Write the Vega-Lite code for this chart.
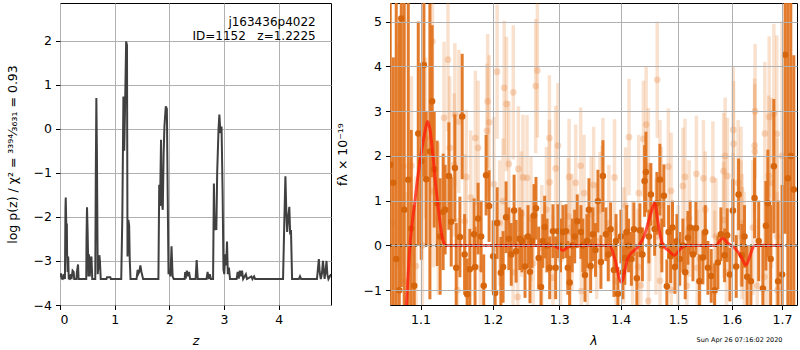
{
"$schema": "https://vega.github.io/schema/vega-lite/v6.json",
"padding": {"left": 5, "top": 2, "right": 1, "bottom": 0},
"spacing": 59,
"bounds": "flush",
"config": {
  "font": "DejaVu Sans",
  "view": {"stroke": "black", "strokeWidth": 1},
  "axis": {"grid": true, "gridColor": "#b0b0b0", "gridWidth": 1, "gridOpacity": 1, "domain": false, "tickColor": "black", "tickSize": 4.5, "tickWidth": 1, "labelFontSize": 12.5, "labelColor": "black", "labelPadding": 4, "titleFontSize": 12.5, "titleFontWeight": "normal", "titleColor": "black", "labelFont": "DejaVu Sans", "titleFont": "DejaVu Sans"}
},
"datasets": {
"pz": [{"z":0,"v":-3.3},{"z":0.01,"v":-3.36},{"z":0.02,"v":-3.28},{"z":0.03,"v":-3.4},{"z":0.05,"v":-3.41},{"z":0.07,"v":-3.3},{"z":0.09,"v":-3.41},{"z":0.1,"v":-1.8},{"z":0.105,"v":-1.56},{"z":0.115,"v":-2.2},{"z":0.125,"v":-2.15},{"z":0.13,"v":-2.85},{"z":0.14,"v":-3.25},{"z":0.15,"v":-2.9},{"z":0.16,"v":-3.4},{"z":0.18,"v":-3.41},{"z":0.2,"v":-3.3},{"z":0.21,"v":-3.41},{"z":0.23,"v":-3.22},{"z":0.25,"v":-3.25},{"z":0.26,"v":-3.41},{"z":0.3,"v":-3.41},{"z":0.31,"v":-3.25},{"z":0.33,"v":-3.08},{"z":0.34,"v":-3.41},{"z":0.48,"v":-3.41},{"z":0.485,"v":-2.5},{"z":0.494,"v":-1.78},{"z":0.505,"v":-2.3},{"z":0.52,"v":-3.35},{"z":0.53,"v":-2.85},{"z":0.545,"v":-3.35},{"z":0.56,"v":-2.95},{"z":0.575,"v":-2.9},{"z":0.59,"v":-3.41},{"z":0.645,"v":-3.41},{"z":0.655,"v":-1.0},{"z":0.665,"v":0.7},{"z":0.675,"v":-0.5},{"z":0.69,"v":-3.3},{"z":0.705,"v":-3.1},{"z":0.72,"v":-2.87},{"z":0.73,"v":-3.0},{"z":0.745,"v":-3.41},{"z":0.85,"v":-3.41},{"z":0.86,"v":-3.37},{"z":0.92,"v":-3.37},{"z":0.93,"v":-3.41},{"z":1.12,"v":-3.41},{"z":1.14,"v":-2.0},{"z":1.16,"v":0.73},{"z":1.175,"v":-0.5},{"z":1.19,"v":0.5},{"z":1.21,"v":1.98},{"z":1.225,"v":1.9},{"z":1.235,"v":-2.9},{"z":1.25,"v":-2.07},{"z":1.265,"v":-2.2},{"z":1.275,"v":-2.95},{"z":1.29,"v":-3.41},{"z":1.4,"v":-3.41},{"z":1.42,"v":-3.2},{"z":1.43,"v":-3.3},{"z":1.45,"v":-3.25},{"z":1.47,"v":-3.1},{"z":1.49,"v":-3.25},{"z":1.5,"v":-3.3},{"z":1.52,"v":-3.41},{"z":1.8,"v":-3.41},{"z":1.815,"v":-1.27},{"z":1.83,"v":-1.75},{"z":1.848,"v":-0.25},{"z":1.86,"v":-1.65},{"z":1.88,"v":-1.84},{"z":1.895,"v":-0.6},{"z":1.91,"v":0.05},{"z":1.935,"v":0.51},{"z":1.955,"v":0.45},{"z":1.97,"v":-1.5},{"z":1.985,"v":-3.3},{"z":2.0,"v":-3.2},{"z":2.02,"v":-3.35},{"z":2.04,"v":-2.67},{"z":2.06,"v":-3.35},{"z":2.08,"v":-3.41},{"z":2.28,"v":-3.41},{"z":2.29,"v":-3.25},{"z":2.3,"v":-3.4},{"z":2.32,"v":-3.22},{"z":2.34,"v":-3.35},{"z":2.36,"v":-3.25},{"z":2.38,"v":-3.41},{"z":2.48,"v":-3.41},{"z":2.5,"v":-2.98},{"z":2.52,"v":-3.41},{"z":2.68,"v":-3.41},{"z":2.7,"v":-3.25},{"z":2.72,"v":-3.41},{"z":2.74,"v":-3.3},{"z":2.76,"v":-3.41},{"z":2.8,"v":-3.41},{"z":2.815,"v":-1.24},{"z":2.83,"v":-2.3},{"z":2.845,"v":-2.0},{"z":2.86,"v":-2.3},{"z":2.875,"v":-1.0},{"z":2.9,"v":0.0},{"z":2.915,"v":0.32},{"z":2.935,"v":-0.1},{"z":2.955,"v":0.05},{"z":2.975,"v":-1.5},{"z":2.99,"v":-3.2},{"z":3.005,"v":-3.3},{"z":3.02,"v":-2.85},{"z":3.04,"v":-3.1},{"z":3.055,"v":-2.56},{"z":3.07,"v":-3.3},{"z":3.09,"v":-3.15},{"z":3.11,"v":-3.41},{"z":3.23,"v":-3.41},{"z":3.25,"v":-3.25},{"z":3.27,"v":-3.4},{"z":3.29,"v":-3.22},{"z":3.31,"v":-3.35},{"z":3.33,"v":-3.22},{"z":3.35,"v":-3.41},{"z":3.4,"v":-3.3},{"z":3.42,"v":-3.41},{"z":3.5,"v":-3.35},{"z":3.52,"v":-3.41},{"z":3.55,"v":-3.35},{"z":3.57,"v":-3.41},{"z":4.08,"v":-3.41},{"z":4.105,"v":-2.0},{"z":4.123,"v":-1.08},{"z":4.14,"v":-1.9},{"z":4.155,"v":-2.34},{"z":4.175,"v":-2.0},{"z":4.195,"v":-1.77},{"z":4.21,"v":-2.4},{"z":4.225,"v":-2.3},{"z":4.245,"v":-3.41},{"z":4.37,"v":-3.41},{"z":4.39,"v":-3.35},{"z":4.41,"v":-3.41},{"z":4.7,"v":-3.41},{"z":4.72,"v":-3.15},{"z":4.735,"v":-2.96},{"z":4.75,"v":-3.25},{"z":4.77,"v":-3.41},{"z":4.79,"v":-3.3},{"z":4.81,"v":-3.0},{"z":4.825,"v":-3.2},{"z":4.84,"v":-3.41},{"z":4.86,"v":-3.2},{"z":4.875,"v":-3.0},{"z":4.89,"v":-3.3},{"z":4.91,"v":-3.41},{"z":4.935,"v":-3.35},{"z":4.96,"v":-3.3}],
"dark": [{"l":1.0606,"f":1.8,"e":8},{"l":1.0645,"f":1.4,"e":2.8},{"l":1.0683,"f":-0.3,"e":6},{"l":1.0722,"f":-1.0,"e":6},{"l":1.0748,"f":5.07,"e":6},{"l":1.0786,"f":0.8,"e":5},{"l":1.0839,"f":1.47,"e":4},{"l":1.0878,"f":0.38,"e":2.2},{"l":1.0917,"f":-0.9,"e":1.8},{"l":1.097,"f":2.5,"e":2.5},{"l":1.1009,"f":1.88,"e":2.2},{"l":1.1045,"f":4.03,"e":2.5},{"l":1.1076,"f":1.48,"e":1.5},{"l":1.1125,"f":2.1,"e":3.3},{"l":1.1155,"f":3.22,"e":1.7},{"l":1.1183,"f":1.7,"e":1.3},{"l":1.1223,"f":0.94,"e":1.4},{"l":1.1263,"f":0.2,"e":1.3},{"l":1.1304,"f":0.75,"e":1.3},{"l":1.1331,"f":0.8,"e":1.0},{"l":1.1382,"f":1.55,"e":1.2},{"l":1.1414,"f":0.53,"e":1.0},{"l":1.1465,"f":1.73,"e":1.2},{"l":1.1483,"f":-0.5,"e":1.0},{"l":1.1534,"f":0.19,"e":0.9},{"l":1.1566,"f":2.88,"e":1.4},{"l":1.16,"f":-0.2,"e":0.9},{"l":1.1635,"f":-1.09,"e":0.8},{"l":1.1673,"f":-0.53,"e":0.9},{"l":1.1733,"f":0.25,"e":0.8},{"l":1.1747,"f":-0.48,"e":0.9},{"l":1.179,"f":0.6,"e":0.8},{"l":1.1833,"f":0.2,"e":0.8},{"l":1.187,"f":-0.9,"e":0.7},{"l":1.1904,"f":1.57,"e":0.9},{"l":1.1947,"f":0.88,"e":0.8},{"l":1.2005,"f":-0.24,"e":0.8},{"l":1.2034,"f":-1.06,"e":0.8},{"l":1.2063,"f":0.5,"e":0.8},{"l":1.2117,"f":-0.61,"e":0.8},{"l":1.215,"f":-0.48,"e":0.8},{"l":1.2194,"f":0.63,"e":0.8},{"l":1.2234,"f":0.15,"e":0.7},{"l":1.227,"f":-0.2,"e":0.7},{"l":1.2312,"f":0.78,"e":0.8},{"l":1.2342,"f":-0.13,"e":0.7},{"l":1.2396,"f":0.15,"e":0.7},{"l":1.243,"f":0.1,"e":0.7},{"l":1.2475,"f":-0.47,"e":0.7},{"l":1.252,"f":0.2,"e":0.7},{"l":1.255,"f":-0.59,"e":0.7},{"l":1.258,"f":0.1,"e":0.6},{"l":1.2611,"f":0.67,"e":0.7},{"l":1.2641,"f":0.83,"e":0.7},{"l":1.2682,"f":-0.28,"e":0.7},{"l":1.2718,"f":-0.93,"e":0.7},{"l":1.2745,"f":0.1,"e":0.6},{"l":1.2774,"f":0.41,"e":0.7},{"l":1.281,"f":0.0,"e":0.6},{"l":1.2851,"f":-0.5,"e":0.7},{"l":1.2902,"f":0.32,"e":0.6},{"l":1.2944,"f":-0.5,"e":0.7},{"l":1.298,"f":0.32,"e":0.6},{"l":1.302,"f":0.0,"e":0.6},{"l":1.3059,"f":0.3,"e":0.6},{"l":1.3106,"f":0.32,"e":0.6},{"l":1.3135,"f":-0.5,"e":0.6},{"l":1.3164,"f":-0.83,"e":0.6},{"l":1.3205,"f":0.0,"e":0.6},{"l":1.3244,"f":0.2,"e":0.6},{"l":1.3285,"f":0.54,"e":0.6},{"l":1.3344,"f":0.3,"e":0.6},{"l":1.3375,"f":0.0,"e":0.6},{"l":1.3409,"f":-0.66,"e":0.6},{"l":1.344,"f":0.1,"e":0.6},{"l":1.3473,"f":0.8,"e":0.7},{"l":1.3501,"f":-0.46,"e":0.6},{"l":1.3538,"f":0.25,"e":0.6},{"l":1.358,"f":-0.1,"e":0.6},{"l":1.362,"f":0.99,"e":0.7},{"l":1.3669,"f":-0.37,"e":0.6},{"l":1.3702,"f":1.55,"e":0.8},{"l":1.3751,"f":0.25,"e":0.6},{"l":1.379,"f":-0.2,"e":0.6},{"l":1.383,"f":0.36,"e":0.6},{"l":1.3885,"f":-0.55,"e":0.6},{"l":1.392,"f":0.1,"e":0.6},{"l":1.3952,"f":-1.08,"e":0.6},{"l":1.4002,"f":0.2,"e":0.6},{"l":1.4035,"f":-0.6,"e":0.6},{"l":1.4069,"f":-0.28,"e":0.6},{"l":1.41,"f":0.3,"e":0.6},{"l":1.4132,"f":0.0,"e":0.6},{"l":1.418,"f":-0.3,"e":0.6},{"l":1.4223,"f":0.36,"e":0.6},{"l":1.4274,"f":-0.73,"e":0.6},{"l":1.4326,"f":0.34,"e":0.6},{"l":1.437,"f":-0.2,"e":0.6},{"l":1.4407,"f":1.44,"e":0.8},{"l":1.443,"f":1.64,"e":0.9},{"l":1.4482,"f":0.2,"e":0.6},{"l":1.4517,"f":1.14,"e":0.7},{"l":1.4582,"f":0.37,"e":0.6},{"l":1.4622,"f":0.94,"e":0.7},{"l":1.4675,"f":1.47,"e":0.8},{"l":1.471,"f":0.0,"e":0.6},{"l":1.4746,"f":1.11,"e":0.7},{"l":1.4799,"f":-0.91,"e":0.6},{"l":1.483,"f":0.3,"e":0.6},{"l":1.4866,"f":-0.24,"e":0.6},{"l":1.49,"f":0.4,"e":0.6},{"l":1.4943,"f":-0.48,"e":0.6},{"l":1.4979,"f":0.1,"e":0.6},{"l":1.503,"f":-0.3,"e":0.6},{"l":1.5088,"f":0.0,"e":0.6},{"l":1.513,"f":-0.6,"e":0.6},{"l":1.5179,"f":0.17,"e":0.6},{"l":1.522,"f":0.4,"e":0.6},{"l":1.5271,"f":-0.2,"e":0.6},{"l":1.5326,"f":0.39,"e":0.6},{"l":1.539,"f":-0.8,"e":0.6},{"l":1.5456,"f":-0.27,"e":0.6},{"l":1.55,"f":0.3,"e":0.6},{"l":1.5549,"f":-0.5,"e":0.6},{"l":1.5611,"f":-0.68,"e":0.6},{"l":1.5675,"f":-1.0,"e":0.6},{"l":1.5737,"f":-0.38,"e":0.6},{"l":1.5794,"f":0.25,"e":0.6},{"l":1.5865,"f":-0.22,"e":0.6},{"l":1.5914,"f":0.23,"e":0.6},{"l":1.5966,"f":-0.65,"e":0.6},{"l":1.6024,"f":0.78,"e":0.7},{"l":1.6088,"f":-0.47,"e":0.7},{"l":1.6134,"f":1.14,"e":0.8},{"l":1.6198,"f":-0.22,"e":0.7},{"l":1.625,"f":0.2,"e":0.7},{"l":1.6302,"f":-0.7,"e":0.7},{"l":1.6375,"f":-0.8,"e":0.8},{"l":1.6448,"f":1.06,"e":0.9},{"l":1.653,"f":0.1,"e":0.9},{"l":1.6613,"f":-0.96,"e":1.0},{"l":1.6673,"f":0.44,"e":1.0},{"l":1.6713,"f":0.94,"e":1.2},{"l":1.677,"f":-0.3,"e":1.2},{"l":1.6834,"f":1.77,"e":1.5},{"l":1.692,"f":-0.8,"e":1.8},{"l":1.7003,"f":-0.65,"e":2.0},{"l":1.7064,"f":4.26,"e":4},{"l":1.712,"f":1.5,"e":8},{"l":1.7181,"f":2.0,"e":8},{"l":1.7243,"f":1.25,"e":3}],
"light": [{"l":1.063,"f":0.5,"e":2.5},{"l":1.07,"f":2.0,"e":2.5},{"l":1.0774,"f":1.77,"e":2.2},{"l":1.08,"f":-0.8,"e":2.0},{"l":1.0881,"f":1.78,"e":2.0},{"l":1.094,"f":-0.46,"e":2.0},{"l":1.1025,"f":0.0,"e":1.8},{"l":1.1066,"f":2.4,"e":1.8},{"l":1.1159,"f":4.56,"e":1.8},{"l":1.1169,"f":1.21,"e":1.7},{"l":1.1237,"f":0.6,"e":1.7},{"l":1.1316,"f":2.85,"e":1.7},{"l":1.137,"f":4.15,"e":1.6},{"l":1.1394,"f":2.18,"e":1.6},{"l":1.1455,"f":1.8,"e":1.6},{"l":1.1465,"f":2.92,"e":1.6},{"l":1.15,"f":-1.0,"e":1.6},{"l":1.152,"f":2.77,"e":1.6},{"l":1.1602,"f":0.54,"e":1.5},{"l":1.1624,"f":1.53,"e":1.5},{"l":1.1686,"f":1.07,"e":1.5},{"l":1.1751,"f":2.4,"e":1.5},{"l":1.179,"f":2.18,"e":1.5},{"l":1.182,"f":-0.5,"e":1.5},{"l":1.1916,"f":2.56,"e":1.5},{"l":1.1926,"f":3.22,"e":1.5},{"l":1.1948,"f":2.75,"e":1.5},{"l":1.2016,"f":1.37,"e":1.5},{"l":1.2063,"f":3.88,"e":1.5},{"l":1.21,"f":0.5,"e":1.4},{"l":1.215,"f":0.99,"e":1.4},{"l":1.2166,"f":3.52,"e":1.5},{"l":1.22,"f":3.16,"e":1.5},{"l":1.2234,"f":1.82,"e":1.4},{"l":1.2297,"f":-0.6,"e":1.4},{"l":1.23,"f":3.42,"e":1.5},{"l":1.2366,"f":-1.15,"e":1.4},{"l":1.2376,"f":1.71,"e":1.4},{"l":1.2422,"f":0.7,"e":1.4},{"l":1.2445,"f":1.52,"e":1.4},{"l":1.2505,"f":1.51,"e":1.4},{"l":1.2565,"f":0.6,"e":1.4},{"l":1.26,"f":-0.4,"e":1.4},{"l":1.2637,"f":3.56,"e":1.5},{"l":1.2662,"f":3.91,"e":1.5},{"l":1.273,"f":-0.05,"e":1.4},{"l":1.28,"f":0.8,"e":1.4},{"l":1.2847,"f":2.4,"e":1.4},{"l":1.2848,"f":1.41,"e":1.4},{"l":1.2902,"f":-0.72,"e":1.4},{"l":1.2945,"f":1.72,"e":1.4},{"l":1.298,"f":2.23,"e":1.4},{"l":1.302,"f":-0.3,"e":1.3},{"l":1.3145,"f":0.65,"e":1.3},{"l":1.3155,"f":1.53,"e":1.3},{"l":1.3164,"f":-0.84,"e":1.3},{"l":1.32,"f":0.3,"e":1.3},{"l":1.326,"f":1.4,"e":1.3},{"l":1.334,"f":1.78,"e":1.3},{"l":1.335,"f":-1.02,"e":1.3},{"l":1.3395,"f":1.17,"e":1.3},{"l":1.345,"f":-0.5,"e":1.3},{"l":1.351,"f":0.7,"e":1.3},{"l":1.355,"f":1.35,"e":1.3},{"l":1.36,"f":0.1,"e":1.3},{"l":1.3654,"f":0.79,"e":1.3},{"l":1.3688,"f":0.93,"e":1.3},{"l":1.3702,"f":1.55,"e":1.3},{"l":1.38,"f":0.5,"e":1.3},{"l":1.3895,"f":1.52,"e":1.3},{"l":1.392,"f":-0.8,"e":1.3},{"l":1.405,"f":0.0,"e":1.3},{"l":1.408,"f":0.89,"e":1.3},{"l":1.414,"f":2.42,"e":1.3},{"l":1.42,"f":-0.3,"e":1.3},{"l":1.4292,"f":-0.48,"e":1.3},{"l":1.4306,"f":1.17,"e":1.3},{"l":1.4343,"f":-0.89,"e":1.3},{"l":1.4387,"f":2.38,"e":1.3},{"l":1.4434,"f":2.7,"e":1.3},{"l":1.4472,"f":-1.24,"e":1.3},{"l":1.4473,"f":1.77,"e":1.3},{"l":1.45,"f":0.5,"e":1.3},{"l":1.4607,"f":0.2,"e":1.3},{"l":1.4628,"f":3.7,"e":1.3},{"l":1.4677,"f":1.5,"e":1.3},{"l":1.4678,"f":-0.79,"e":1.3},{"l":1.47,"f":0.9,"e":1.3},{"l":1.4825,"f":1.76,"e":1.3},{"l":1.4875,"f":1.22,"e":1.3},{"l":1.4876,"f":-1.0,"e":1.3},{"l":1.5,"f":-0.4,"e":1.3},{"l":1.5088,"f":1.33,"e":1.3},{"l":1.5125,"f":1.53,"e":1.3},{"l":1.516,"f":-0.9,"e":1.3},{"l":1.52,"f":0.6,"e":1.3},{"l":1.5335,"f":1.6,"e":1.3},{"l":1.535,"f":-0.5,"e":1.3},{"l":1.5403,"f":-0.3,"e":1.3},{"l":1.5465,"f":1.5,"e":1.3},{"l":1.55,"f":0.8,"e":1.3},{"l":1.5642,"f":1.47,"e":1.3},{"l":1.5675,"f":-0.52,"e":1.3},{"l":1.57,"f":0.2,"e":1.3},{"l":1.5845,"f":1.66,"e":1.3},{"l":1.5847,"f":0.57,"e":1.3},{"l":1.5875,"f":2.0,"e":1.3},{"l":1.59,"f":-0.6,"e":1.3},{"l":1.5917,"f":1.55,"e":1.3},{"l":1.6024,"f":0.77,"e":1.3},{"l":1.6031,"f":2.58,"e":1.4},{"l":1.6037,"f":2.27,"e":1.4},{"l":1.6125,"f":1.4,"e":1.4},{"l":1.6182,"f":1.25,"e":1.4},{"l":1.6183,"f":0.5,"e":1.4},{"l":1.62,"f":0.2,"e":1.4},{"l":1.6243,"f":-0.2,"e":1.4},{"l":1.6415,"f":0.4,"e":1.5},{"l":1.6448,"f":2.23,"e":1.5},{"l":1.6452,"f":2.1,"e":1.5},{"l":1.6458,"f":3.0,"e":1.5},{"l":1.65,"f":-0.9,"e":1.5},{"l":1.6645,"f":-0.7,"e":1.6},{"l":1.6652,"f":2.5,"e":1.6},{"l":1.6713,"f":-0.05,"e":1.7},{"l":1.6729,"f":1.55,"e":1.8},{"l":1.674,"f":2.87,"e":1.8},{"l":1.6786,"f":1.4,"e":1.9},{"l":1.6834,"f":2.95,"e":2.0},{"l":1.6893,"f":2.49,"e":2.2},{"l":1.69,"f":0.2,"e":2.2},{"l":1.6905,"f":-1.0,"e":2.2},{"l":1.7,"f":2.0,"e":3.0}],
"model": [{"l":1.076,"f":-3.0},{"l":1.0816,"f":-1.32},{"l":1.0861,"f":0.0},{"l":1.0926,"f":0.99},{"l":1.097,"f":1.6},{"l":1.1013,"f":2.1},{"l":1.1055,"f":2.5},{"l":1.1093,"f":2.77},{"l":1.1125,"f":2.6},{"l":1.1169,"f":1.96},{"l":1.12,"f":1.4},{"l":1.1237,"f":0.84},{"l":1.127,"f":0.4},{"l":1.1304,"f":0.1},{"l":1.1349,"f":0.0},{"l":1.29,"f":0.0},{"l":1.298,"f":-0.05},{"l":1.3059,"f":-0.11},{"l":1.314,"f":-0.03},{"l":1.32,"f":0.0},{"l":1.3814,"f":0.0},{"l":1.39,"f":-0.3},{"l":1.4007,"f":-0.82},{"l":1.4122,"f":-0.28},{"l":1.4292,"f":-0.03},{"l":1.4396,"f":0.2},{"l":1.4512,"f":0.69},{"l":1.4582,"f":0.95},{"l":1.4657,"f":0.39},{"l":1.4728,"f":0.0},{"l":1.4817,"f":-0.1},{"l":1.4936,"f":-0.22},{"l":1.5026,"f":-0.1},{"l":1.512,"f":0.0},{"l":1.571,"f":0.0},{"l":1.577,"f":0.1},{"l":1.583,"f":0.16},{"l":1.5926,"f":0.05},{"l":1.6054,"f":-0.05},{"l":1.6182,"f":-0.25},{"l":1.628,"f":-0.44},{"l":1.6366,"f":-0.2},{"l":1.6445,"f":0.0},{"l":1.7015,"f":0.0}],
"notes": [{"t1": "j163436p4022", "t2": "ID=1152\u00a0\u00a0\u00a0z=1.2225", "t3": "Sun Apr 26 07:16:02 2020"}]
},
"hconcat": [
{
  "width": 271, "height": 302,
  "layer": [
    {"data": {"name": "pz"},
     "mark": {"type": "line", "color": "#404040", "strokeWidth": 2, "clip": true},
     "encoding": {
       "x": {"field": "z", "type": "quantitative", "scale": {"domain": [0, 4.957], "nice": false, "zero": false}, "axis": {"values": [0,1,2,3,4], "format": "d", "title": "z", "titleFontStyle": "italic", "titlePadding": 8}},
       "y": {"field": "v", "type": "quantitative", "scale": {"domain": [-4, 2.855], "nice": false, "zero": false}, "axis": {"values": [-4,-3,-2,-1,0,1,2], "format": "d", "title": "log p(z) / χ² = ³³⁹⁴⁄₃₆₃₁ = 0.93", "titlePadding": 14}}
     }},
    {"data": {"name": "notes"}, "mark": {"type": "text", "align": "right", "baseline": "middle", "fontSize": 12, "font": "DejaVu Sans", "color": "black"},
     "encoding": {"x": {"datum": 4.677}, "y": {"datum": 2.42}, "text": {"field": "t1"}}},
    {"data": {"name": "notes"}, "mark": {"type": "text", "align": "right", "baseline": "middle", "fontSize": 12, "font": "DejaVu Sans", "color": "black"},
     "encoding": {"x": {"datum": 4.677}, "y": {"datum": 2.1}, "text": {"field": "t2"}}}
  ]
},
{
  "width": 407, "height": 302,
  "layer": [
    {"data": {"name": "light"}, "mark": {"type": "errorbar", "thickness": 3.5, "color": "#e8863a", "opacity": 0.25, "clip": true},
     "encoding": {
       "x": {"field": "l", "type": "quantitative", "title": "λ", "scale": {"type": "log", "domain": [1.0603, 1.731], "nice": false}, "axis": {"values": [1.1,1.2,1.3,1.4,1.5,1.6,1.7], "format": ".1f", "titleFontStyle": "italic", "titlePadding": 8, "zindex": 1}},
       "y": {"field": "f", "type": "quantitative", "title": "fλ × 10⁻¹⁹", "scale": {"domain": [-1.33, 5.415], "nice": false, "zero": false}, "axis": {"values": [-1,0,1,2,3,4,5], "format": "d", "titlePadding": 14, "zindex": 1}},
       "yError": {"field": "e"}}},
    {"data": {"name": "light"}, "mark": {"type": "circle", "size": 45, "color": "#e8863a", "opacity": 0.3, "clip": true},
     "encoding": {"x": {"field": "l", "type": "quantitative", "title": "λ"}, "y": {"field": "f", "type": "quantitative", "title": "fλ × 10⁻¹⁹"}}},
    {"data": {"name": "dark"}, "mark": {"type": "errorbar", "thickness": 3, "color": "#e07420", "opacity": 0.95, "clip": true},
     "encoding": {"x": {"field": "l", "type": "quantitative", "title": "λ"}, "y": {"field": "f", "type": "quantitative", "title": "fλ × 10⁻¹⁹"}, "yError": {"field": "e"}}},
    {"data": {"name": "dark"}, "mark": {"type": "circle", "size": 42, "color": "#d6650c", "opacity": 1, "clip": true},
     "encoding": {"x": {"field": "l", "type": "quantitative", "title": "λ"}, "y": {"field": "f", "type": "quantitative", "title": "fλ × 10⁻¹⁹"}}},
    {"data": {"name": "model"}, "mark": {"type": "line", "color": "#ff1a0a", "opacity": 0.75, "strokeWidth": 3, "interpolate": "monotone", "clip": true},
     "encoding": {"x": {"field": "l", "type": "quantitative", "title": "λ"}, "y": {"field": "f", "type": "quantitative", "title": "fλ × 10⁻¹⁹"}}},
    {"data": {"name": "notes"}, "mark": {"type": "rule", "color": "black", "strokeWidth": 2, "strokeDash": [2, 3], "opacity": 0.85}, "encoding": {"y": {"datum": 0}}},
    {"data": {"name": "notes"}, "mark": {"type": "text", "fontSize": 6.5, "font": "DejaVu Sans", "color": "black", "align": "center", "baseline": "middle"},
     "encoding": {"x": {"datum": 1.6152}, "y": {"datum": -2.11}, "text": {"field": "t3"}}}
  ]
}
]
}
